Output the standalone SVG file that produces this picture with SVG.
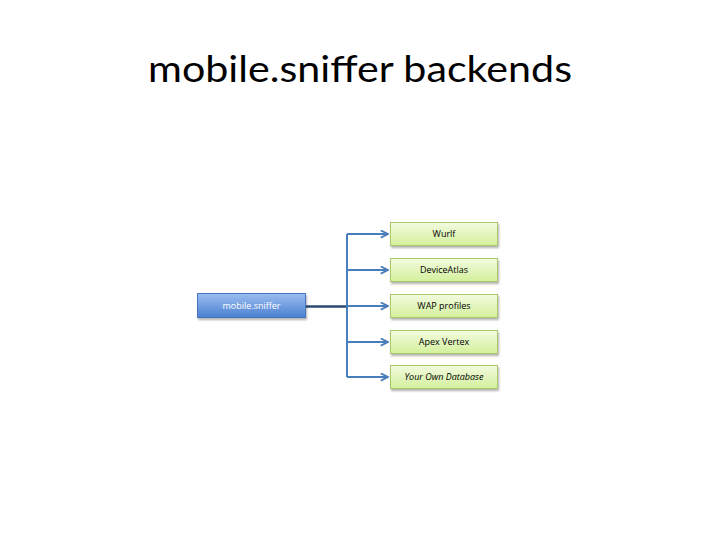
<svg xmlns="http://www.w3.org/2000/svg" width="720" height="540" viewBox="0 0 720 540">
<defs>
<linearGradient id="gg" x1="0" y1="0" x2="0" y2="1">
<stop offset="0" stop-color="#f3fbe0"/>
<stop offset="1" stop-color="#d3f09c"/>
</linearGradient>
<linearGradient id="bg" x1="0" y1="0" x2="0" y2="1">
<stop offset="0" stop-color="#9bbdf0"/>
<stop offset="1" stop-color="#4b80d2"/>
</linearGradient>
<filter id="sh" x="-10%" y="-20%" width="130%" height="160%">
<feDropShadow dx="1" dy="2" stdDeviation="1.2" flood-color="#000" flood-opacity="0.3"/>
</filter>
<marker id="ah" viewBox="0 0 10 10" refX="9" refY="5" markerWidth="4.5" markerHeight="4.5" orient="auto" markerUnits="strokeWidth">
<path d="M1,1 L9,5 L1,9" fill="none" stroke="#4a7ebb" stroke-width="2"/>
</marker>
<style>
.g{fill:url(#gg);stroke:#a8c86a;stroke-width:1;filter:url(#sh)}
.b{fill:url(#bg);stroke:#4674be;stroke-width:1;filter:url(#sh)}
.t{font-family:"Open Sans","Liberation Sans",sans-serif;font-size:9px;text-anchor:middle;fill:#000}
.c{fill:none;stroke:#4a7ebb;stroke-width:2}
</style>
</defs>
<text x="360" y="82" font-family="Lato,'Open Sans',sans-serif" font-size="37" text-anchor="middle" fill="#000" textLength="424" lengthAdjust="spacingAndGlyphs">mobile.sniffer backends</text>
<g id="connectors">
<path d="M306,306.5 H347" stroke="#2b4a73" stroke-width="2.5" fill="none"/>
<path class="c" d="M347,234 V377"/>
<path class="c" d="M347,234 H388" marker-end="url(#ah)"/>
<path class="c" d="M347,270 H388" marker-end="url(#ah)"/>
<path class="c" d="M347,306 H388" marker-end="url(#ah)"/>
<path class="c" d="M347,342 H388" marker-end="url(#ah)"/>
<path class="c" d="M347,377 H388" marker-end="url(#ah)"/>
</g>
<g id="mobile-sniffer">
<rect class="b" x="197.5" y="293.5" width="108" height="24"/>
<text class="t" x="251.5" y="309" style="fill:#fff">mobile.sniffer</text>
</g>
<g id="wurlf">
<rect class="g" x="390.5" y="222.5" width="107" height="23"/>
<text class="t" x="444" y="237">Wurlf</text>
</g>
<g id="deviceatlas">
<rect class="g" x="390.5" y="258.5" width="107" height="23"/>
<text class="t" x="444" y="273">DeviceAtlas</text>
</g>
<g id="wap-profiles">
<rect class="g" x="390.5" y="294.5" width="107" height="23"/>
<text class="t" x="444" y="309">WAP profiles</text>
</g>
<g id="apex-vertex">
<rect class="g" x="390.5" y="330.5" width="107" height="23"/>
<text class="t" x="444" y="345">Apex Vertex</text>
</g>
<g id="your-own-database">
<rect class="g" x="390.5" y="365.5" width="107" height="23"/>
<text class="t" x="444" y="380" font-style="italic">Your Own Database</text>
</g>
</svg>
